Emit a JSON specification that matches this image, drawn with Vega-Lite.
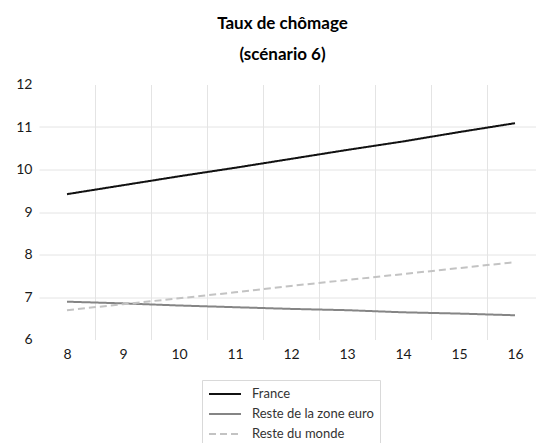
{
  "$schema": "https://vega.github.io/schema/vega-lite/v6.json",
  "width": 497,
  "height": 255,
  "autosize": {"type": "none"},
  "padding": {"left": 39, "top": 84.5, "right": 0, "bottom": 103.5},
  "background": "white",
  "title": {
    "text": ["Taux de chômage", "(scénario 6)"],
    "font": "Lato",
    "fontSize": 17,
    "fontWeight": "bold",
    "color": "#000000",
    "lineHeight": 31,
    "anchor": "middle",
    "dx": -5,
    "offset": 14
  },
  "data": {
    "values": [
      {"annee": 8, "serie": "France", "taux": 9.42},
      {"annee": 9, "serie": "France", "taux": 9.63},
      {"annee": 10, "serie": "France", "taux": 9.84},
      {"annee": 11, "serie": "France", "taux": 10.04},
      {"annee": 12, "serie": "France", "taux": 10.25},
      {"annee": 13, "serie": "France", "taux": 10.46},
      {"annee": 14, "serie": "France", "taux": 10.66},
      {"annee": 15, "serie": "France", "taux": 10.88},
      {"annee": 16, "serie": "France", "taux": 11.09},
      {"annee": 8, "serie": "Reste de la zone euro", "taux": 6.89},
      {"annee": 9, "serie": "Reste de la zone euro", "taux": 6.85},
      {"annee": 10, "serie": "Reste de la zone euro", "taux": 6.8},
      {"annee": 11, "serie": "Reste de la zone euro", "taux": 6.76},
      {"annee": 12, "serie": "Reste de la zone euro", "taux": 6.72},
      {"annee": 13, "serie": "Reste de la zone euro", "taux": 6.69},
      {"annee": 14, "serie": "Reste de la zone euro", "taux": 6.64},
      {"annee": 15, "serie": "Reste de la zone euro", "taux": 6.61},
      {"annee": 16, "serie": "Reste de la zone euro", "taux": 6.57},
      {"annee": 8, "serie": "Reste du monde", "taux": 6.69},
      {"annee": 9, "serie": "Reste du monde", "taux": 6.83},
      {"annee": 10, "serie": "Reste du monde", "taux": 6.97},
      {"annee": 11, "serie": "Reste du monde", "taux": 7.11},
      {"annee": 12, "serie": "Reste du monde", "taux": 7.26},
      {"annee": 13, "serie": "Reste du monde", "taux": 7.4},
      {"annee": 14, "serie": "Reste du monde", "taux": 7.54},
      {"annee": 15, "serie": "Reste du monde", "taux": 7.68},
      {"annee": 16, "serie": "Reste du monde", "taux": 7.82}
    ]
  },
  "mark": {"type": "line", "strokeWidth": 2, "clip": false},
  "encoding": {
    "x": {
      "field": "annee",
      "type": "quantitative",
      "scale": {"domain": [7.5, 16.375], "nice": false, "zero": false},
      "axis": {
        "title": null,
        "values": [8, 8.5, 9, 9.5, 10, 10.5, 11, 11.5, 12, 12.5, 13, 13.5, 14, 14.5, 15, 15.5, 16],
        "labelExpr": "datum.value % 1 == 0 ? format(datum.value, 'd') : ''",
        "grid": true,
        "gridColor": {"condition": {"test": "datum.value % 1 == 0", "value": "transparent"}, "value": "#e4e4e4"},
        "gridWidth": 1,
        "ticks": false,
        "domain": false,
        "labelPadding": 8,
        "labelFont": "Lato",
        "labelFontSize": 14,
        "labelColor": "#1a1a1a",
        "labelFlush": false,
        "labelOverlap": false
      }
    },
    "y": {
      "field": "taux",
      "type": "quantitative",
      "scale": {"domain": [6, 12], "nice": false, "zero": false},
      "axis": {
        "title": null,
        "values": [6, 7, 8, 9, 10, 11, 12],
        "grid": true,
        "gridColor": {"condition": {"test": "datum.value == 6 || datum.value == 12", "value": "transparent"}, "value": "#e4e4e4"},
        "gridWidth": 1,
        "ticks": false,
        "domain": false,
        "labelPadding": 7,
        "labelFont": "Lato",
        "labelFontSize": 14,
        "labelColor": "#1a1a1a",
        "labelFlush": false,
        "labelOverlap": false
      }
    },
    "color": {
      "field": "serie",
      "type": "nominal",
      "scale": {
        "domain": ["France", "Reste de la zone euro", "Reste du monde"],
        "range": ["#111111", "#858585", "#c3c3c3"]
      },
      "legend": {
        "title": null,
        "orient": "none",
        "legendX": 163,
        "legendY": 295.5,
        "direction": "vertical",
        "symbolType": "stroke",
        "symbolSize": 1024,
        "symbolStrokeWidth": 2,
        "strokeColor": "#d9d9d9",
        "fillColor": "white",
        "padding": 6,
        "labelOffset": 10,
        "labelFont": "Lato",
        "labelFontSize": 13,
        "labelColor": "#333333",
        "clipHeight": 16,
        "rowPadding": 4
      }
    },
    "strokeDash": {
      "field": "serie",
      "type": "nominal",
      "scale": {
        "domain": ["France", "Reste de la zone euro", "Reste du monde"],
        "range": [[1, 0], [1, 0], [7, 4]]
      },
      "legend": {
        "title": null,
        "orient": "none",
        "legendX": 163,
        "legendY": 295.5,
        "direction": "vertical",
        "symbolType": "stroke",
        "symbolSize": 1024,
        "symbolStrokeWidth": 2,
        "strokeColor": "#d9d9d9",
        "fillColor": "white",
        "padding": 6,
        "labelOffset": 10,
        "labelFont": "Lato",
        "labelFontSize": 13,
        "labelColor": "#333333",
        "clipHeight": 16,
        "rowPadding": 4
      }
    }
  },
  "config": {"view": {"stroke": null}}
}
